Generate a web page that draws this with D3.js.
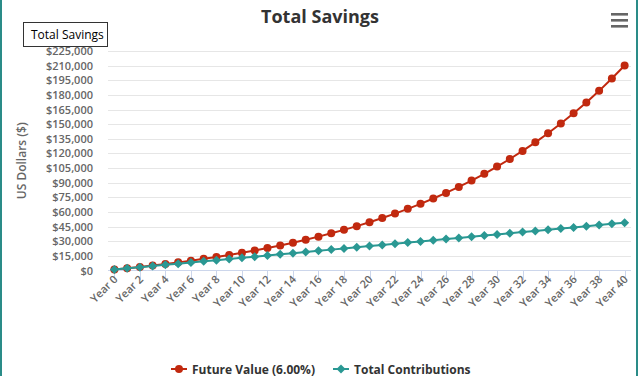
<!DOCTYPE html>
<html>
<head>
<meta charset="utf-8">
<script src="https://cdn.jsdelivr.net/npm/d3@7"></script>
<style>
  html, body { margin: 0; padding: 0; background: #fff; }
  svg { display: block; font-family: "Open Sans", "DejaVu Sans", sans-serif; }
</style>
</head>
<body>
<svg id="chart" width="642" height="376"></svg>
<script>
// values
const years = d3.range(0, 41).map(n => `Year ${n}`);
const futureValue = [
  1000, 2300, 3670, 5130, 6680, 8330, 10070, 11930, 13900, 15990,
  18210, 20560, 23070, 25720, 28540, 31540, 34720, 38090, 41670, 45480,
  49510, 53800, 58350, 63190, 68320, 73770, 79550, 85690, 92210, 99130,
  106480, 114280, 122560, 131350, 140690, 150600, 161120, 172290, 184150, 196740,
  210110
];
const totalContributions = [
  1000, 2200, 3400, 4600, 5800, 7000, 8200, 9400, 10600, 11800,
  13000, 14200, 15400, 16600, 17800, 19000, 20200, 21400, 22600, 23800,
  25000, 26200, 27400, 28600, 29800, 31000, 32200, 33400, 34600, 35800,
  37000, 38200, 39400, 40600, 41800, 43000, 44200, 45400, 46600, 47800,
  49000
];
const yTicks = d3.range(0, 225001, 15000);

const series = [
  { name: "Future Value (6.00%)", values: futureValue, color: "#c1290f", marker: "circle" },
  { name: "Total Contributions", values: totalContributions, color: "#2a9893", marker: "diamond" }
];

const svg = d3.select("#chart");
const plot = { left: 108, right: 631, top: 51, bottom: 270.5 };

const x = d3.scalePoint().domain(years).range([plot.left, plot.right]).padding(0.5);
const y = d3.scaleLinear().domain([0, 225000]).range([plot.bottom, plot.top]);
const fmt = d3.format("$,");

// page frame edges
svg.append("rect").attr("x", 0).attr("y", 0).attr("width", 2).attr("height", 376).attr("fill", "#2a8c88");
svg.append("rect").attr("x", 636).attr("y", 0).attr("width", 2).attr("height", 376).attr("fill", "#2a8c88");

// title
svg.append("text")
  .attr("x", 320).attr("y", 23)
  .attr("text-anchor", "middle")
  .attr("font-size", 18).attr("font-weight", 700).attr("fill", "#333")
  .text("Total Savings");

// menu button
svg.append("g").attr("fill", "#666")
  .selectAll("rect").data([13, 19, 25]).join("rect")
  .attr("x", 611).attr("y", d => d).attr("width", 17).attr("height", 2.6);

// grid + y labels
const yAxis = svg.append("g");
yAxis.selectAll("line").data(yTicks.filter(d => d > 0)).join("line")
  .attr("x1", plot.left).attr("x2", plot.right)
  .attr("y1", d => Math.round(y(d)) + 0.5).attr("y2", d => Math.round(y(d)) + 0.5)
  .attr("stroke", "#e6e6e6");
yAxis.selectAll("text").data(yTicks).join("text")
  .attr("x", 93).attr("y", d => y(d) + 4)
  .attr("text-anchor", "end")
  .attr("font-size", 11).attr("font-weight", 600).attr("fill", "#666")
  .text(d => fmt(d));

svg.append("text")
  .attr("transform", `translate(26,${(plot.top + plot.bottom) / 2}) rotate(-90)`)
  .attr("text-anchor", "middle")
  .attr("font-size", 12).attr("font-weight", 600).attr("fill", "#666")
  .text("US Dollars ($)");

// x axis
const xAxis = svg.append("g");
xAxis.append("line")
  .attr("x1", plot.left).attr("x2", plot.right)
  .attr("y1", 270.5).attr("y2", 270.5)
  .attr("stroke", "#ccd6eb");
const shown = years.filter((d, i) => i % 2 === 0);
xAxis.selectAll(".tick").data(shown).join("line")
  .attr("class", "tick")
  .attr("x1", d => Math.round(x(d)) + 0.5).attr("x2", d => Math.round(x(d)) + 0.5)
  .attr("y1", 270.5).attr("y2", 280)
  .attr("stroke", "#ccd6eb");
xAxis.selectAll("text").data(shown).join("text")
  .attr("transform", d => `translate(${x(d) + 4},280) rotate(-45)`)
  .attr("text-anchor", "end")
  .attr("font-size", 11).attr("font-weight", 600).attr("fill", "#666")
  .text(d => d);

// series
const line = d3.line().x((d, i) => x(years[i])).y(d => y(d));
const diamond = r => `M0,${-r}L${r},0L0,${r}L${-r},0Z`;

for (const s of series) {
  const g = svg.append("g");
  g.append("path")
    .attr("d", line(s.values))
    .attr("fill", "none").attr("stroke", s.color).attr("stroke-width", 2);
  if (s.marker === "circle") {
    g.selectAll("circle").data(s.values).join("circle")
      .attr("cx", (d, i) => x(years[i])).attr("cy", d => y(d))
      .attr("r", 4).attr("fill", s.color);
  } else {
    g.selectAll("path.m").data(s.values).join("path")
      .attr("class", "m")
      .attr("transform", (d, i) => `translate(${x(years[i])},${y(d)})`)
      .attr("d", diamond(4.5)).attr("fill", s.color);
  }
}

// legend
const legendX = [171, 333];
const legend = svg.append("g").selectAll("g").data(series).join("g")
  .attr("transform", (d, i) => `translate(${legendX[i]},369)`);
legend.append("line")
  .attr("x1", 0).attr("x2", 16).attr("y1", 0).attr("y2", 0)
  .attr("stroke", d => d.color).attr("stroke-width", 2);
legend.append("path")
  .attr("transform", "translate(8,0)")
  .attr("d", d => d.marker === "circle" ? d3.symbol(d3.symbolCircle, 50)() : diamond(4.5))
  .attr("fill", d => d.color);
legend.append("text")
  .attr("x", 21).attr("y", 4.5)
  .attr("font-size", 12).attr("font-weight", 700).attr("fill", "#333")
  .text(d => d.name);

// label box top-left
svg.append("rect")
  .attr("x", 23.5).attr("y", 22.5).attr("width", 84).attr("height", 24)
  .attr("fill", "#fff").attr("stroke", "#333");
svg.append("text")
  .attr("x", 31).attr("y", 39)
  .attr("font-size", 12).attr("fill", "#000")
  .text("Total Savings");
</script>
</body>
</html>
